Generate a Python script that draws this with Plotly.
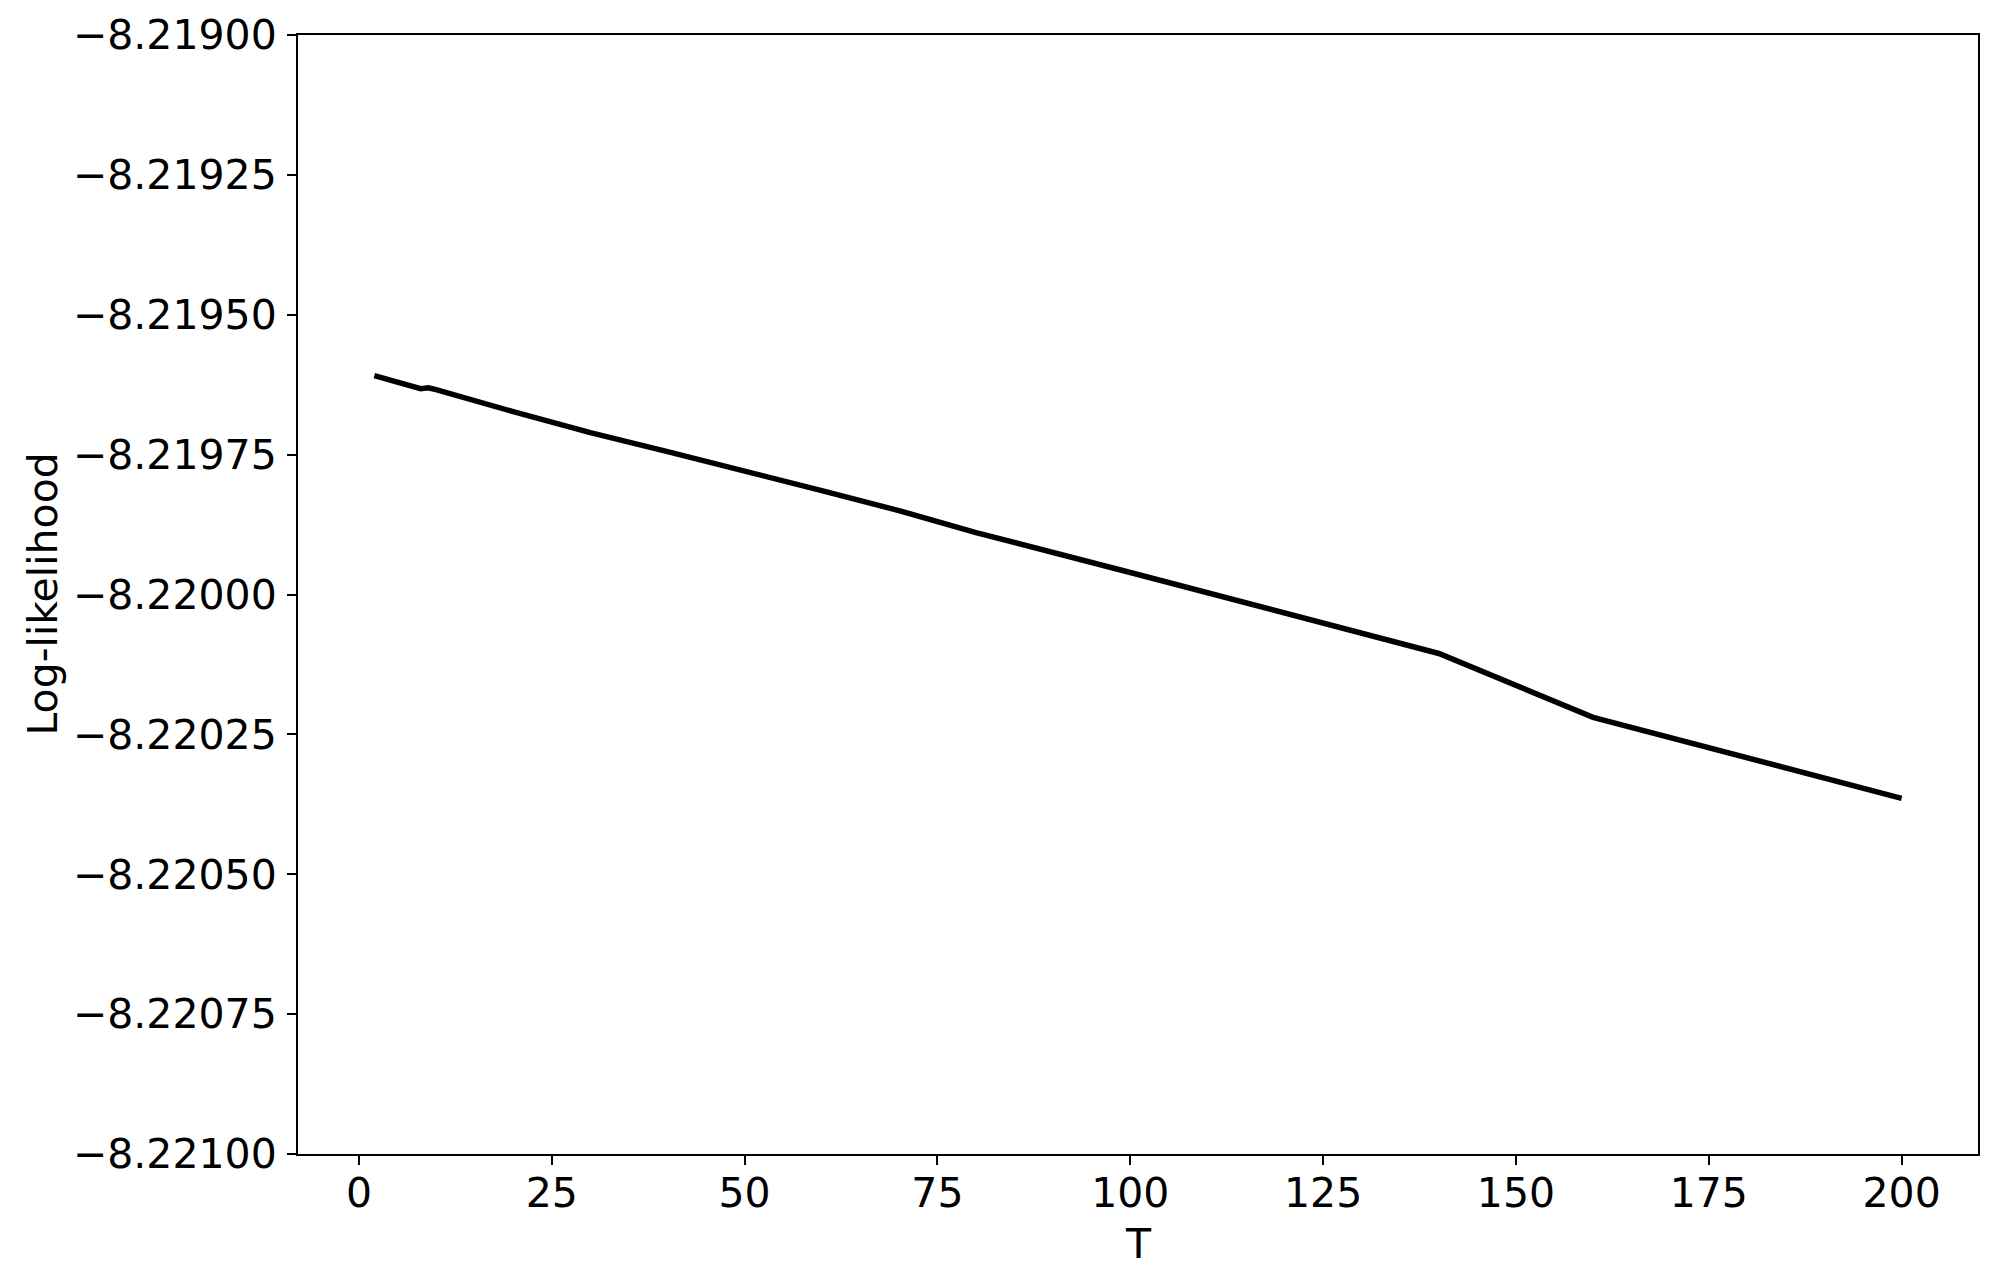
import plotly.graph_objects as go

# Data
T = [2, 8, 9, 10, 20, 30, 40, 50, 60, 70, 80, 100, 120, 140, 160, 180, 200]
loglik = [-8.2196089, -8.2196321, -8.2196304, -8.2196339, -8.2196732, -8.2197107,
          -8.2197446, -8.2197786, -8.2198143, -8.2198500, -8.2198893, -8.2199607,
          -8.2200339, -8.2201054, -8.2202196, -8.2202929, -8.2203643]

x_ticks = [0, 25, 50, 75, 100, 125, 150, 175, 200]
y_ticks = [-8.21900, -8.21925, -8.21950, -8.21975, -8.22000, -8.22025, -8.22050, -8.22075, -8.22100]
y_tick_text = ["\u22128.21900", "\u22128.21925", "\u22128.21950", "\u22128.21975", "\u22128.22000",
               "\u22128.22025", "\u22128.22050", "\u22128.22075", "\u22128.22100"]
x_title = "T"
y_title = "Log-likelihood"

FONT = "DejaVu Sans"
FS = 41

fig = go.Figure()
fig.add_trace(go.Scatter(x=T, y=loglik, mode="lines",
                         line=dict(color="black", width=5.5)))

axis_common = dict(
    showline=True, linecolor="black", linewidth=2, mirror=True,
    ticks="outside", ticklen=9, tickwidth=2, tickcolor="black",
    showgrid=False, zeroline=False, automargin=False,
    tickfont=dict(family=FONT, size=FS, color="black"),
)

fig.update_layout(
    width=1981, height=1270,
    margin=dict(l=290, r=11, t=27, b=124),
    paper_bgcolor="white", plot_bgcolor="white",
    showlegend=False,
    xaxis=dict(range=[-7.9, 209.9], tickvals=x_ticks, ticklabelstandoff=-7, **axis_common),
    yaxis=dict(range=[-8.221, -8.219], tickvals=y_ticks, ticktext=y_tick_text,
               ticklabelstandoff=2, **axis_common),
)

fig.add_annotation(text=x_title, xref="paper", yref="paper", x=0.5, y=0,
                   xanchor="center", yanchor="middle", yshift=-90, showarrow=False,
                   font=dict(family=FONT, size=FS, color="black"))
fig.add_annotation(text=y_title, xref="paper", yref="paper", x=0, y=0.5,
                   xanchor="center", yanchor="middle", xshift=-256, textangle=-90,
                   showarrow=False, font=dict(family=FONT, size=FS, color="black"))

fig.write_html("out.html")
